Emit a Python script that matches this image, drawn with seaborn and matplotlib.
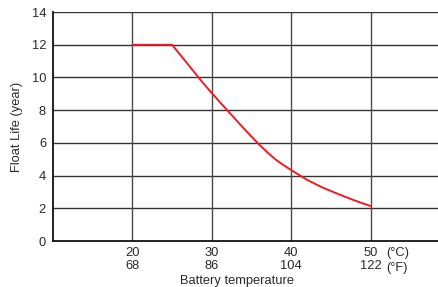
import matplotlib

matplotlib.use("Agg")
import matplotlib.pyplot as plt
import matplotlib.transforms as mtransforms
import pandas as pd
import seaborn as sns

# float life vs battery temperature
temp_c = [20, 25, 27, 29, 30, 31, 32, 33, 34, 35, 36, 37, 38, 39, 40, 42, 44, 46, 48, 50]
life_years = [12, 12, 10.8, 9.6, 9.05, 8.5, 7.97, 7.43, 6.9, 6.38, 5.88, 5.42,
              5.0, 4.65, 4.34, 3.74, 3.26, 2.86, 2.48, 2.14]

tick_c = [20, 30, 40, 50]
tick_f = [68, 86, 104, 122]
y_ticks = [0, 2, 4, 6, 8, 10, 12, 14]

sns.set_style("white")
plt.rcParams["font.family"] = ["Liberation Sans", "DejaVu Sans"]

df = pd.DataFrame({"temp": temp_c, "life": life_years})
txt_color = "#2a2a2a"
fs = 9.3

fig = plt.figure(figsize=(4.39, 2.87), dpi=100)
ax = fig.add_axes([0.1207, 0.160, 0.8793, 0.798])

ax.set_xlim(10, 58.6)
ax.set_ylim(0, 14)

# grid
for y in y_ticks[1:]:
    ax.axhline(y, color="#333333", lw=1.0, zorder=1)
for x in tick_c:
    ax.axvline(x, color="#4a4a4a", lw=1.0, zorder=1)

sns.lineplot(data=df, x="temp", y="life", color="#ee1c25", lw=1.4, ax=ax, zorder=3)

ax.set_xticks(tick_c)
ax.set_xticklabels([f"{c}\n{f}" for c, f in zip(tick_c, tick_f)], linespacing=1.1)
ax.set_yticks(y_ticks)
ax.tick_params(axis="both", length=0, labelsize=fs, colors=txt_color)
ax.tick_params(axis="x", pad=4)
ax.tick_params(axis="y", pad=5)

trans = mtransforms.blended_transform_factory(ax.transData, ax.transAxes)
ax.text(51.9, -0.026, "(°C)", transform=trans, ha="left", va="top", fontsize=fs, color=txt_color)
ax.text(51.9, -0.093, "(°F)", transform=trans, ha="left", va="top", fontsize=fs, color=txt_color)

ax.set_xlabel("Battery temperature", fontsize=fs, color=txt_color)
ax.xaxis.set_label_coords(0.477, -0.148)
ax.xaxis.label.set_va("top")
ax.set_ylabel("Float Life (year)", fontsize=fs, color=txt_color)
ax.yaxis.set_label_coords(-0.078, 0.5)

for side in ["top", "right"]:
    ax.spines[side].set_visible(False)
for side in ["left", "bottom"]:
    ax.spines[side].set_color("#111111")
    ax.spines[side].set_linewidth(1.3)

fig.savefig("out.png", dpi=100)
plt.close(fig)
